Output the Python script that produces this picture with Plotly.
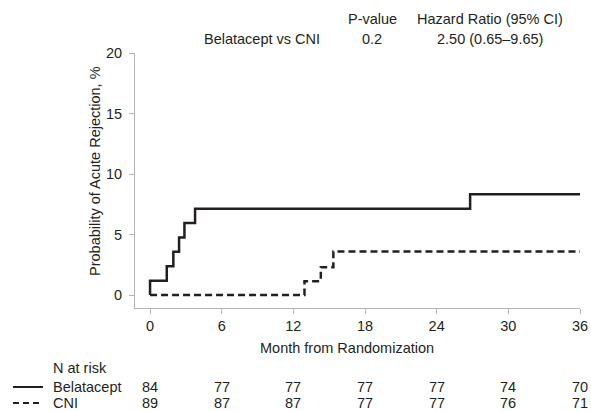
import plotly.graph_objects as go

# Data
bela_t = [0, 0, 1.4, 1.95, 2.43, 2.88, 3.77, 26.8, 36]
bela_p = [0, 1.19, 2.38, 3.57, 4.76, 5.95, 7.14, 8.33, 8.33]
cni_t = [0, 12.93, 14.3, 15.35, 36]
cni_p = [0, 1.15, 2.3, 3.6, 3.6]

x_ticks = [0, 6, 12, 18, 24, 30, 36]
y_ticks = [0, 5, 10, 15, 20]
risk_bela = [84, 77, 77, 77, 77, 74, 70]
risk_cni = [89, 87, 87, 77, 77, 76, 71]

INK = "#231f20"
GREY = "#b3b3b3"
FONT = "Liberation Sans, Arial, sans-serif"

fig = go.Figure()
fig.add_trace(go.Scatter(x=bela_t, y=bela_p, mode="lines", line_shape="hv",
                         line=dict(color=INK, width=2.5), showlegend=False, cliponaxis=False))
fig.add_trace(go.Scatter(x=cni_t, y=cni_p, mode="lines", line_shape="hv",
                         line=dict(color=INK, width=2.5, dash="7px,4px"), showlegend=False, cliponaxis=False))

L, R, T, B = 135, 11, 53, 103
W, H = 591, 411
pw = W - L - R
ph = H - T - B

def px(xpix):
    return (xpix - L) / pw

def py(ypix):
    return (T + ph - ypix) / ph

ann = []
tf = dict(family=FONT, size=14.5, color=INK)

def add(x, y, text, xref="x", xanchor="center", **kw):
    ann.append(dict(x=x, y=y, xref=xref, yref="paper", text=text, showarrow=False,
                    font=tf, xanchor=xanchor, yanchor="middle", **kw))

# header table
add(18.6, py(19), "P-value")
add(28.5, py(19), "Hazard Ratio (95% CI)")
add(9.4, py(39), "Belatacept vs CNI")
add(18.6, py(39), "0.2")
add(28.5, py(39), "2.50 (0.65–9.65)")
# axis titles
add(px(95), py(171), "Probability of Acute Rejection, %", xref="paper", textangle=-90)
add(16.5, py(348), "Month from Randomization")
# risk table
add(px(51), py(368), "N at risk", xref="paper", xanchor="left")
add(px(51), py(387), "Belatacept", xref="paper", xanchor="left")
add(px(51), py(403), "CNI", xref="paper", xanchor="left")
for xt, a, b in zip(x_ticks, risk_bela, risk_cni):
    add(xt, py(387), str(a))
    add(xt, py(403), str(b))

shapes = [
    dict(type="line", xref="paper", yref="paper", x0=px(13), x1=px(43), y0=py(387), y1=py(387),
         line=dict(color=INK, width=2)),
    dict(type="line", xref="paper", yref="paper", x0=px(13), x1=px(43), y0=py(403), y1=py(403),
         line=dict(color=INK, width=2, dash="6px,4px")),
]

fig.update_layout(
    width=W, height=H,
    margin=dict(l=L, r=R, t=T, b=B, pad=0),
    paper_bgcolor="white", plot_bgcolor="white",
    font=dict(family=FONT, size=14.5, color=INK),
    annotations=ann, shapes=shapes,
    xaxis=dict(range=[-1.26, 36], tickvals=x_ticks, showgrid=False, zeroline=False,
               showline=True, linecolor=GREY, linewidth=1, ticks="outside", ticklen=5,
               tickcolor=GREY, tickfont=tf, fixedrange=True, automargin=False),
    yaxis=dict(range=[-1.07, 20], tickvals=y_ticks, showgrid=False, zeroline=False,
               showline=True, linecolor=GREY, linewidth=1, ticks="outside", ticklen=5,
               tickcolor=GREY, tickfont=tf, fixedrange=True, automargin=False,
               ticklabelstandoff=4),
)

fig.write_html("out.html", config={"displayModeBar": False},
               post_script="document.body.style.margin='0';document.body.style.padding='0';")
